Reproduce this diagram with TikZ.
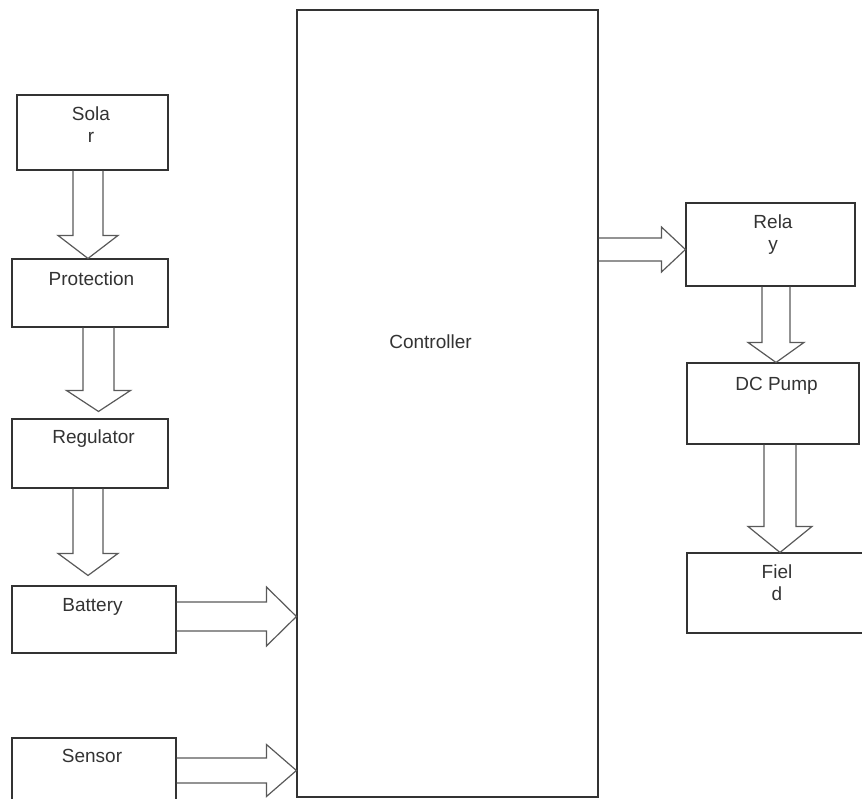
\documentclass[tikz,border=0pt]{standalone}
\usepackage{fontspec}
\setmainfont{Liberation Sans}
\usetikzlibrary{calc}

% hollow block arrows: start, tip, half shaft, half head, head length
\newcommand{\fatdown}[5]{%
  \draw[fat] let \p1=(#1), \p2=(#2) in
    (\x1-#3pt,\y1) -- (\x1-#3pt,\y2+#5pt) -- (\x1-#4pt,\y2+#5pt) -- (\x1,\y2)
    -- (\x1+#4pt,\y2+#5pt) -- (\x1+#3pt,\y2+#5pt) -- (\x1+#3pt,\y1);}
\newcommand{\fatright}[5]{%
  \draw[fat] let \p1=(#1), \p2=(#2) in
    (\x1,\y1+#3pt) -- (\x2-#5pt,\y1+#3pt) -- (\x2-#5pt,\y1+#4pt) -- (\x2,\y1)
    -- (\x2-#5pt,\y1-#4pt) -- (\x2-#5pt,\y1-#3pt) -- (\x1,\y1-#3pt);}

\begin{document}
\begin{tikzpicture}[x=1pt,y=-1pt,
  blk/.style={draw=black!80,line width=1.1pt,minimum width=#1,inner sep=0pt},
  fat/.style={draw=black!65,line width=1.2pt,line join=miter},
  txt/.style={text=black!80,font=\fontsize{19pt}{22pt}\selectfont,align=center,inner sep=0pt,anchor=north}]
\useasboundingbox (0,0) rectangle (862,798);

% blocks
\node[blk=151pt,minimum height=75pt] (solar) at (92.5,132.5) {};
\node[blk=156pt,minimum height=68pt] (protect) at (90,293) {};
\node[blk=156pt,minimum height=69pt] (reg) at (90,453.5) {};
\node[blk=164pt,minimum height=67pt] (batt) at (94,619.5) {};
\node[blk=164pt,minimum height=67pt] (sensor) at (94,771.5) {};
\node[blk=301pt,minimum height=787pt] (ctrl) at (447.5,403.5) {};
\node[blk=169pt,minimum height=83pt] (relay) at (770.5,244.5) {};
\node[blk=172pt,minimum height=81pt] (pump) at (773,403.5) {};
\node[blk=180pt,minimum height=80pt] (field) at (777,593) {};

% labels
\node[txt] (solartxt) at (91,106.5) {Sola\\r};
\node[txt] (protecttxt) at (91.5,272) {Protection};
\node[txt] (regtxt) at (93.5,430) {Regulator};
\node[txt] (batttxt) at (92.5,598) {Battery};
\node[txt] (sensortxt) at (92,749) {Sensor};
\node[txt] (ctrltxt) at (430.5,335) {Controller};
\node[txt] (relaytxt) at (773,215) {Rela\\y};
\node[txt] (pumptxt) at (776.5,377) {DC Pump};
\node[txt] (fieldtxt) at (777,565) {Fiel\\d};

% arrows
\coordinate (relayin) at ([yshift=-5pt]relay.west);
\fatdown{[xshift=-4.5pt]solar.south}{protect.north}{15}{30}{23}
\fatdown{[xshift=8.5pt]protect.south}{[yshift=7pt]reg.north}{15.5}{32}{21}
\fatdown{[xshift=-2pt]reg.south}{[yshift=10pt]batt.north}{15}{30}{22}
\fatright{[yshift=3pt]batt.east}{ctrl.west}{14.5}{29.5}{30}
\fatright{[yshift=1pt]sensor.east}{ctrl.west}{12.5}{26}{30}
\fatright{ctrl.east |- relayin}{relayin}{11.5}{22.5}{24}
\fatdown{[xshift=5.5pt]relay.south}{pump.north}{14}{28}{20}
\fatdown{[xshift=7pt]pump.south}{field.north}{16}{32}{26}
\end{tikzpicture}
\end{document}
